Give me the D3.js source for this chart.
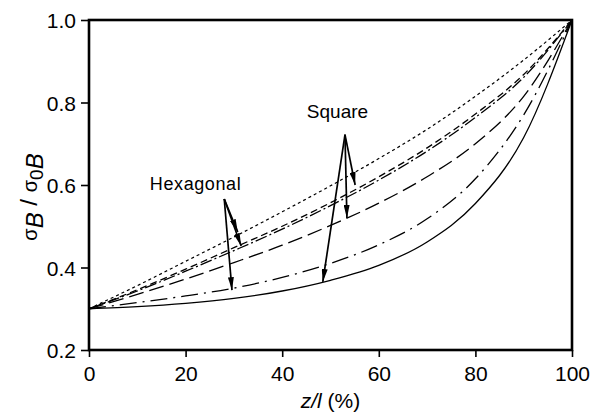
<!DOCTYPE html>
<html>
<head>
<meta charset="utf-8">
<script src="https://cdn.jsdelivr.net/npm/d3@7"></script>
<style>
  body { margin: 0; background: #fff; }
  svg text { font-family: "Liberation Sans", Arial, sans-serif; fill: #000; }
</style>
</head>
<body>
<div id="chart"></div>
<script>
// z/l in percent
var zValues = [0, 10, 20, 30, 40, 50, 60, 70, 80, 90, 100];

// sigma_B / sigma_0B, top curve to bottom curve
var dottedSeries   = [0.30, 0.356, 0.415, 0.474, 0.535, 0.598, 0.664, 0.735, 0.815, 0.903, 1.0];
var pairUpper      = [0.30, 0.346, 0.396, 0.448, 0.500, 0.557, 0.620, 0.690, 0.772, 0.868, 1.0];
var pairLower      = [0.30, 0.343, 0.391, 0.441, 0.493, 0.550, 0.612, 0.682, 0.764, 0.861, 1.0];
var longDashSeries = [0.30, 0.335, 0.372, 0.412, 0.454, 0.502, 0.556, 0.620, 0.700, 0.815, 1.0];
var dashDotSeries  = [0.30, 0.315, 0.331, 0.350, 0.376, 0.410, 0.455, 0.518, 0.615, 0.770, 1.0];
var solidSeries    = [0.30, 0.305, 0.313, 0.325, 0.343, 0.369, 0.405, 0.462, 0.555, 0.715, 1.0];

var xTicks = [0, 20, 40, 60, 80, 100];
var yTicks = [0.2, 0.4, 0.6, 0.8, 1.0];

// annotation arrows: [z, value]
var hexArrowFrom = [28.0, 0.566];
var hexArrowTips = [[30.8, 0.486], [31.5, 0.452], [29.6, 0.345]];
var sqArrowFrom  = [53.0, 0.722];
var sqArrowTips  = [[55.1, 0.600], [53.4, 0.520], [48.4, 0.365]];

var svgWidth = 601, svgHeight = 414;
var margin = {top: 20, right: 29, bottom: 64, left: 89};
var w = svgWidth - margin.left - margin.right;
var h = svgHeight - margin.top - margin.bottom;

var x = d3.scaleLinear().domain([0, 100]).range([0, w]);
var y = d3.scaleLinear().domain([0.2, 1.0]).range([h, 0]);

var svg = d3.select("#chart").append("svg").attr("width", svgWidth).attr("height", svgHeight);
var g = svg.append("g").attr("transform", "translate(" + margin.left + "," + margin.top + ")");

// axes with outward ticks
var xAxis = g.append("g").attr("transform", "translate(0," + h + ")")
  .call(d3.axisBottom(x).tickValues(xTicks).tickSize(7).tickPadding(6).tickFormat(d3.format("d")));
var yAxis = g.append("g")
  .call(d3.axisLeft(y).tickValues(yTicks).tickSize(8).tickPadding(5).tickFormat(d3.format(".1f")));
[xAxis, yAxis].forEach(function(a){
  a.select(".domain").remove();
  a.selectAll("line").attr("stroke", "#000").attr("stroke-width", 1.6);
  a.selectAll("text").style("font-size", "21px").attr("fill", "#000");
});
xAxis.selectAll("text").attr("dy", "0.85em");
yAxis.selectAll("text").attr("dy", "0.36em");

// curves
var line = d3.line()
  .x(function(d){ return x(d[0]); })
  .y(function(d){ return y(d[1]); })
  .curve(d3.curveMonotoneX);

var curves = [
  {values: dottedSeries,   dash: "3,3",        width: 1.2},
  {values: pairUpper,      dash: "7,4",        width: 1.3},
  {values: pairLower,      dash: "12,3,2,3",   width: 1.3},
  {values: longDashSeries, dash: "15,6",       width: 1.3},
  {values: dashDotSeries,  dash: "17,6,2,6",   width: 1.3},
  {values: solidSeries,    dash: null,         width: 1.3}
];
g.append("g").selectAll("path").data(curves).enter().append("path")
  .attr("d", function(d){ return line(d.values.map(function(v, i){ return [zValues[i], v]; })); })
  .attr("fill", "none").attr("stroke", "#000")
  .attr("stroke-width", function(d){ return d.width; })
  .attr("stroke-dasharray", function(d){ return d.dash; });

// arrows
var defs = svg.append("defs");
defs.append("marker").attr("id", "head").attr("viewBox", "0 0 13 6")
  .attr("refX", 13).attr("refY", 3).attr("markerWidth", 13).attr("markerHeight", 6)
  .attr("markerUnits", "userSpaceOnUse").attr("orient", "auto")
  .append("path").attr("d", "M0,0 L13,3 L0,6 Z").attr("fill", "#000");

function drawArrows(from, tips){
  g.append("g").selectAll("line").data(tips).enter().append("line")
    .attr("x1", x(from[0])).attr("y1", y(from[1]))
    .attr("x2", function(d){ return x(d[0]); }).attr("y2", function(d){ return y(d[1]); })
    .attr("stroke", "#000").attr("stroke-width", 1.7)
    .attr("marker-end", "url(#head)");
}
drawArrows(hexArrowFrom, hexArrowTips);
drawArrows(sqArrowFrom, sqArrowTips);

g.append("text").attr("x", x(12.6)).attr("y", y(0.588))
  .style("font-size", "18px").style("letter-spacing", "0.6px").text("Hexagonal");
g.append("text").attr("x", x(45.1)).attr("y", y(0.762))
  .style("font-size", "19px").text("Square");

// frame
g.append("rect").attr("width", w).attr("height", h)
  .attr("fill", "none").attr("stroke", "#000").attr("stroke-width", 2.6);

// axis titles
var xl = svg.append("text").attr("x", margin.left + w / 2).attr("y", 408)
  .attr("text-anchor", "middle").style("font-size", "21px");
xl.append("tspan").style("font-style", "italic").text("z/l");
xl.append("tspan").text(" (%)");

var yl = svg.append("text")
  .attr("transform", "translate(37," + (margin.top + h / 2 + 12) + ") rotate(-90)")
  .attr("text-anchor", "middle").style("font-size", "24px");
yl.append("tspan").style("font-size", "20px").text("σ");
yl.append("tspan").style("font-style", "italic").attr("dy", 6).text("B");
yl.append("tspan").attr("dy", -6).text(" / ");
yl.append("tspan").style("font-size", "20px").text("σ");
yl.append("tspan").attr("dy", 6).style("font-size", "19px").text("0");
yl.append("tspan").style("font-style", "italic").text("B");
</script>
</body>
</html>
